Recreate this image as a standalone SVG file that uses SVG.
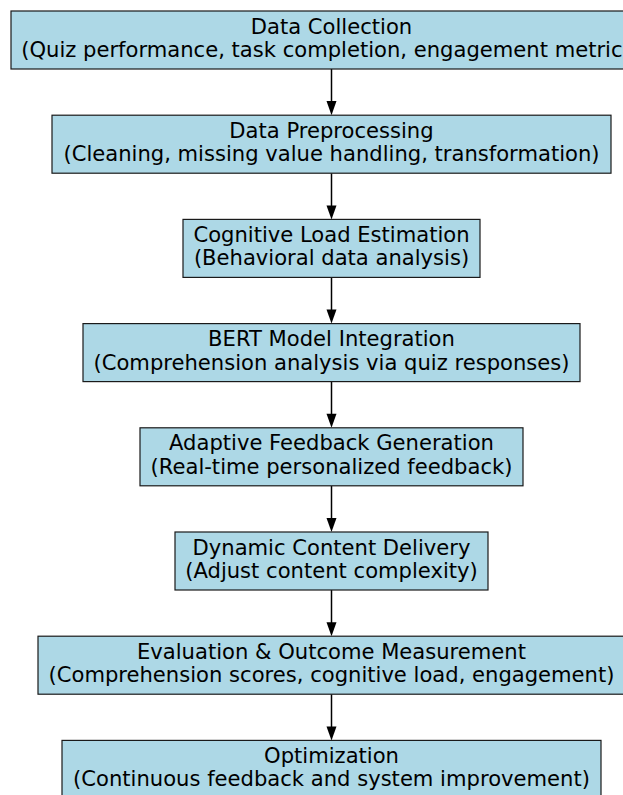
<svg xmlns="http://www.w3.org/2000/svg" width="623" height="795" viewBox="0 0 623 795">
<style>
.box{fill:#ADD8E6;stroke:#1a1a1a;stroke-width:1.2}
.t{font-family:"DejaVu Sans",sans-serif;font-size:21.1px;fill:#000;text-anchor:middle}
.c{stroke:#000;stroke-width:1.5;fill:none}
.h{fill:#000}
</style>
<rect width="623" height="795" fill="#fff"/>
<g id="connectors">
<line class="c" x1="331.5" y1="69" x2="331.5" y2="104"/><polygon class="h" points="326.5,101 336.5,101 331.5,115.2"/>
<line class="c" x1="331.5" y1="173.2" x2="331.5" y2="208"/><polygon class="h" points="326.5,205.4 336.5,205.4 331.5,219.4"/>
<line class="c" x1="331.5" y1="277.4" x2="331.5" y2="312"/><polygon class="h" points="326.5,309.6 336.5,309.6 331.5,323.6"/>
<line class="c" x1="331.5" y1="381.6" x2="331.5" y2="416"/><polygon class="h" points="326.5,413.8 336.5,413.8 331.5,427.8"/>
<line class="c" x1="331.5" y1="485.8" x2="331.5" y2="520"/><polygon class="h" points="326.5,518 336.5,518 331.5,532"/>
<line class="c" x1="331.5" y1="590" x2="331.5" y2="625"/><polygon class="h" points="326.5,622.2 336.5,622.2 331.5,636.2"/>
<line class="c" x1="331.5" y1="694.2" x2="331.5" y2="729"/><polygon class="h" points="326.5,726.4 336.5,726.4 331.5,740.4"/>
</g>
<g id="n1"><rect class="box" x="11" y="11" width="641" height="58"/>
<text class="t" x="331.5" y="33.5">Data Collection</text>
<text class="t" x="331.5" y="57">(Quiz performance, task completion, engagement metrics)</text></g>
<g id="n2"><rect class="box" x="52" y="115.2" width="559" height="58"/>
<text class="t" x="331.5" y="137.7">Data Preprocessing</text>
<text class="t" x="331.5" y="161.2">(Cleaning, missing value handling, transformation)</text></g>
<g id="n3"><rect class="box" x="183" y="219.4" width="297" height="58"/>
<text class="t" x="331.5" y="241.9">Cognitive Load Estimation</text>
<text class="t" x="331.5" y="265.4">(Behavioral data analysis)</text></g>
<g id="n4"><rect class="box" x="83" y="323.6" width="497" height="58"/>
<text class="t" x="331.5" y="346.1">BERT Model Integration</text>
<text class="t" x="331.5" y="369.6">(Comprehension analysis via quiz responses)</text></g>
<g id="n5"><rect class="box" x="140" y="427.8" width="383" height="58"/>
<text class="t" x="331.5" y="450.3">Adaptive Feedback Generation</text>
<text class="t" x="331.5" y="473.8">(Real-time personalized feedback)</text></g>
<g id="n6"><rect class="box" x="175" y="532" width="313" height="58"/>
<text class="t" x="331.5" y="554.5">Dynamic Content Delivery</text>
<text class="t" x="331.5" y="578">(Adjust content complexity)</text></g>
<g id="n7"><rect class="box" x="38" y="636.2" width="587" height="58"/>
<text class="t" x="331.5" y="658.7">Evaluation &amp; Outcome Measurement</text>
<text class="t" x="331.5" y="682.2">(Comprehension scores, cognitive load, engagement)</text></g>
<g id="n8"><rect class="box" x="62" y="740.4" width="539" height="58"/>
<text class="t" x="331.5" y="762.9">Optimization</text>
<text class="t" x="331.5" y="786.4">(Continuous feedback and system improvement)</text></g>
</svg>
